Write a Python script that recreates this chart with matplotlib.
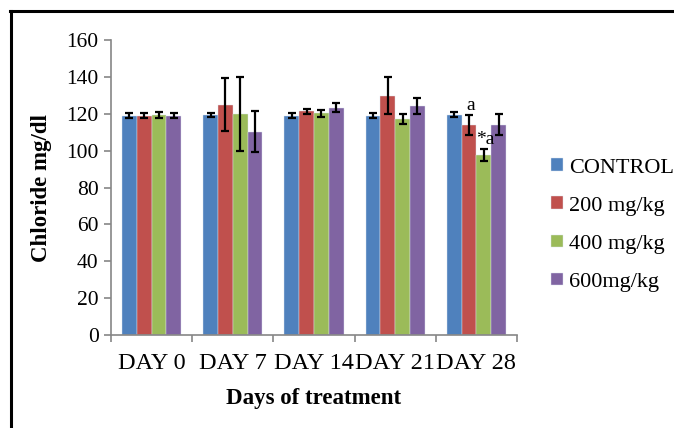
import numpy as np
import matplotlib
matplotlib.use("Agg")
import matplotlib.pyplot as plt
from matplotlib.lines import Line2D

days = ["DAY 0", "DAY 7", "DAY 14", "DAY 21", "DAY 28"]
groups = ["CONTROL", "200 mg/kg", "400 mg/kg", "600mg/kg"]
colors = ["#4F81BD", "#C0504D", "#9BBB59", "#8064A2"]

control = [119, 119.3, 119, 119, 119.5]
dose200 = [119, 125, 121.3, 129.8, 113.9]
dose400 = [119.5, 120, 120.2, 117.1, 97.6]
dose600 = [119, 110.3, 123.3, 124, 114]

control_err = [1.2, 1.2, 1.2, 1.2, 1.2]
dose200_err = [1.2, 14.5, 1.2, 10, 5.6]
dose400_err = [1.7, 20, 2, 2.5, 3.4]
dose600_err = [1.2, 11.3, 2.5, 4.3, 5.6]

# significance marks: (group index, day index, text)
marks = [(1, 4, "a"), (2, 4, "*a")]

values = [control, dose200, dose400, dose600]
errors = [control_err, dose200_err, dose400_err, dose600_err]

plt.rcParams["font.family"] = ["Liberation Serif", "DejaVu Serif"]

fig = plt.figure(figsize=(6.74, 4.28), dpi=100)
ax = fig.add_axes([0.1647, 0.2173, 0.767 - 0.1647, 0.9065 - 0.2173])

x = np.arange(len(days))
w = 0.182
handles = []
for i, (vals, errs) in enumerate(zip(values, errors)):
    pos = x + (i - 1.5) * w
    b = ax.bar(pos, vals, w, color=colors[i], edgecolor="#dde6f0", linewidth=0.3,
               label=groups[i], zorder=2)
    ax.errorbar(pos, vals, yerr=errs, fmt="none", ecolor="black", elinewidth=1.6,
                capsize=3.2, capthick=1.6, zorder=3)
    handles.append(b)

for gi, di, txt in marks:
    xp = x[di] + (gi - 1.5) * w
    top = values[gi][di] + errors[gi][di]
    ax.text(xp + 0.02, top + 0.3, txt, ha="center", va="bottom", fontsize=14,
            family=["Liberation Serif"])

ax.set_xlim(-0.5, len(days) - 0.5)
ax.set_ylim(0, 160)
ax.set_yticks(np.arange(0, 161, 20))
ax.set_xticks(x)
ax.set_xticklabels(days, fontsize=17.5)
ax.set_xticks(np.arange(-0.5, len(days), 1.0), minor=True)
ax.tick_params(axis="x", which="major", length=0, pad=13)
ax.tick_params(axis="x", which="minor", length=5, color="#868686", width=1.2)
ax.tick_params(axis="y", length=5, color="#868686", width=1.2, labelsize=15.5, pad=4)

for s in ("top", "right"):
    ax.spines[s].set_visible(False)
for s in ("left", "bottom"):
    ax.spines[s].set_color("#868686")
    ax.spines[s].set_linewidth(1.2)

ax.set_xlabel("Days of treatment", fontsize=16.5, fontweight="bold", labelpad=10)
ax.set_ylabel("Chloride mg/dl", fontsize=16.5, fontweight="bold", labelpad=10)

fig.legend(handles=handles, labels=groups, loc="center left",
           bbox_to_anchor=(0.805, 0.474), frameon=False, fontsize=16,
           handlelength=0.5, handleheight=0.5, handletextpad=0.3,
           labelspacing=0.85, borderaxespad=0)

# frame lines on the left and top of the picture
fig.add_artist(Line2D([0.016, 0.016], [0.0, 0.975], transform=fig.transFigure,
                      color="black", lw=2.2))
fig.add_artist(Line2D([0.015, 1.0], [0.975, 0.975], transform=fig.transFigure,
                      color="black", lw=2.2))

fig.savefig("out.png", dpi=100)
